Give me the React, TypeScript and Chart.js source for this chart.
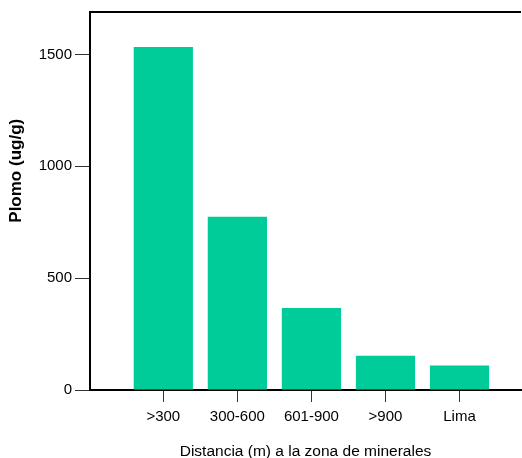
import React, { useEffect, useRef } from "react";
import { Chart, registerables } from "chart.js";

Chart.register(...registerables);

const categories = [">300", "300-600", "601-900", ">900", "Lima"];
const plomoValues = [1533, 775, 367, 153, 109];
const yTickStep = 500;
const yMax = 1690;
const xTitle = "Distancia (m) a la zona de minerales";
const yTitle = "Plomo (ug/g)";

const FONT = "Arial, 'Liberation Sans', Helvetica, sans-serif";

const framePlugin = {
  id: "frameAndTitle",
  afterDraw(chart: any) {
    const { ctx, chartArea } = chart;
    ctx.save();
    ctx.strokeStyle = "#000";
    ctx.lineWidth = 2;
    ctx.beginPath();
    ctx.moveTo(chartArea.left, chartArea.top);
    ctx.lineTo(chartArea.right, chartArea.top);
    ctx.stroke();
    // y axis title
    ctx.translate(16, chartArea.top + (chartArea.bottom - chartArea.top) * 0.42);
    ctx.rotate(-Math.PI / 2);
    ctx.fillStyle = "#000";
    ctx.font = `bold 17px ${FONT}`;
    ctx.textAlign = "center";
    ctx.textBaseline = "middle";
    ctx.fillText(yTitle, 0, 0);
    ctx.restore();
  },
};

export default function App() {
  const ref = useRef<HTMLCanvasElement>(null);
  useEffect(() => {
    if (!ref.current) return;
    const yTicks: number[] = [];
    for (let v = 0; v <= yMax; v += yTickStep) yTicks.push(v);
    const chart = new Chart(ref.current, {
      type: "bar",
      data: {
        datasets: [
          {
            data: categories.map((c, i) => ({ x: i, y: plomoValues[i] })),
            backgroundColor: "#00CC99",
            borderWidth: 0,
            categoryPercentage: 1,
            barPercentage: 0.8,
          },
        ],
      },
      options: {
        responsive: false,
        animation: false,
        layout: { padding: { left: 0, top: 12, right: 1, bottom: 0 } },
        plugins: { legend: { display: false }, tooltip: { enabled: false } },
        scales: {
          x: {
            type: "linear",
            offset: false,
            min: -0.99,
            max: 4.83,
            afterBuildTicks: (axis: any) => {
              axis.ticks = categories.map((c, i) => ({ value: i }));
            },
            afterFit: (scale: any) => {
              scale.height = 68;
            },
            ticks: {
              stepSize: 1,
              autoSkip: false,
              maxRotation: 0,
              padding: 6,
              color: "#000",
              font: { family: FONT, size: 15 },
              callback: (v: any) => categories[v] ?? "",
            },
            grid: {
              display: true,
              offset: false,
              drawOnChartArea: false,
              tickLength: 12,
              tickColor: "#333",
              tickWidth: 1,
            },
            border: { display: true, color: "#000", width: 2 },
            title: {
              display: true,
              text: xTitle,
              color: "#000",
              font: { family: FONT, size: 15.5 },
              padding: { top: 0, bottom: -3 },
            },
          },
          y: {
            type: "linear",
            min: 0,
            max: yMax,
            afterBuildTicks: (axis: any) => {
              axis.ticks = yTicks.map((v) => ({ value: v }));
            },
            afterFit: (scale: any) => {
              scale.width = 90;
            },
            ticks: {
              autoSkip: false,
              padding: 3,
              color: "#000",
              font: { family: FONT, size: 15 },
              callback: (v: any) => String(v),
            },
            grid: {
              display: true,
              drawOnChartArea: false,
              tickLength: 15,
              tickColor: "#333",
              tickWidth: 1,
            },
            border: { display: true, color: "#000", width: 2 },
          },
        },
      },
      plugins: [framePlugin],
    } as any);
    return () => chart.destroy();
  }, []);
  return (
    <div style={{ position: "absolute", left: 0, top: 0, width: 522, height: 458, background: "#fff" }}>
      <canvas ref={ref} width={522} height={458} />
    </div>
  );
}
